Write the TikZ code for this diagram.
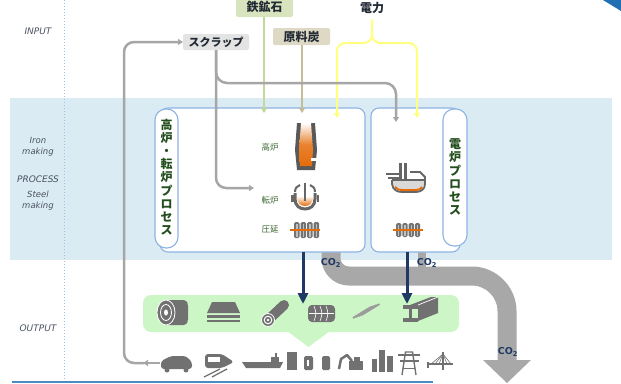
\documentclass[tikz,border=0pt]{standalone}
\usepackage{fontspec}
\setmainfont{DejaVu Sans}
\newfontfamily\jp{Noto Sans CJK JP}
\usetikzlibrary{arrows.meta}

\definecolor{bandblue}{HTML}{DAEBF4}
\definecolor{dotblue}{HTML}{9DC3E6}
\definecolor{boxline}{HTML}{8DB3E2}
\definecolor{labgray}{HTML}{4A5260}
\definecolor{navy}{HTML}{1F3864}
\definecolor{scrapgray}{HTML}{A6A6A6}
\definecolor{oreline}{HTML}{C5D89B}
\definecolor{orefill}{HTML}{D7E4BD}
\definecolor{coalline}{HTML}{C4BD97}
\definecolor{coalfill}{HTML}{DDD9C4}
\definecolor{scrapfill}{HTML}{E3E3E3}
\definecolor{powerline}{HTML}{FFFF80}
\definecolor{intext}{HTML}{222A35}
\definecolor{vgreen}{HTML}{234F1E}
\definecolor{lgreen}{HTML}{3F6B35}
\definecolor{prodgreen}{HTML}{CDF6C7}
\definecolor{icon}{HTML}{717171}
\definecolor{melt}{HTML}{E46C0A}
\definecolor{cornerblue}{HTML}{1F6FB2}
\definecolor{co2gray}{HTML}{A8A8A8}

\begin{document}
\begin{tikzpicture}[x=1pt,y=-1pt,
  every node/.style={inner sep=0pt, outer sep=0pt},
  rowlabel/.style={font=\fontsize{9}{11}\selectfont\itshape, text=labgray, align=center},
  inbox/.style={font=\jp\bfseries\fontsize{12}{13}\selectfont, text=intext, rounded corners=2pt},
  procbox/.style={draw=boxline, line width=1.1pt, fill=white, rounded corners=8pt},
  pill/.style={draw=boxline, line width=1.1pt, fill=white, rounded corners=11pt},
  vtext/.style={font=\jp\bfseries\fontsize{12}{13.2}\selectfont, text=vgreen, align=center},
  unitlabel/.style={font=\jp\fontsize{8.5}{9}\selectfont, text=lgreen},
  smalltip/.style={-{Triangle[length=5pt,width=6pt]}},
  scrapline/.style={draw=scrapgray, line width=2.5pt},
  feedline/.style={line width=2pt},
  steelarrow/.style={draw=navy, line width=3pt, -{Triangle[length=11pt,width=10pt]}},
  co2label/.style={font=\bfseries\fontsize{9.5}{10}\selectfont, text=navy},
  co2band/.style={draw=co2gray, line width=19pt}
]
\useasboundingbox (0,0) rectangle (621,383);

% process band and column divider
\fill[bandblue] (10,98) rectangle (612,260);
\draw[dotblue, line width=1pt, dotted] (64,0) -- (64,383);
\fill[cornerblue] (603,0) -- (621,0) -- (621,11) -- cycle;
\draw[cornerblue!80, line width=2pt] (12,381.5) -- (433,381.5);

% row labels
\node[rowlabel] (lin) at (38,31) {INPUT};
\node[rowlabel, font=\fontsize{8.5}{11}\selectfont\itshape] (liron) at (38,146.5) {Iron\\making};
\node[rowlabel] (lproc) at (38,179) {PROCESS};
\node[rowlabel, font=\fontsize{8.5}{11}\selectfont\itshape] (lsteel) at (38,201) {Steel\\making};
\node[rowlabel] (lout) at (38,328) {OUTPUT};

% products band
\fill[prodgreen, rounded corners=8pt] (143,295) rectangle (459,332);
\fill[prodgreen] (287,331) -- (330,331) -- (308.5,347) -- cycle;

% CO2 flow
\coordinate (co2a) at (331,244);
\coordinate (co2b) at (422,244);
\coordinate (co2end) at (507,361);
\draw[co2band] (co2a) -- (331,258) .. controls (331,268) and (339,276) .. (349,276)
   -- (472,276) .. controls (491,276) and (507,292) .. (507,311) -- (co2end);
\draw[draw=co2gray, line width=8pt] (co2b) -- (422,272);
\fill[co2gray] (483,360) -- (531,360) -- (507,383) -- cycle;

% process boxes
\node[procbox, minimum width=205pt, minimum height=144pt] (bof) at (262.5,180) {};
\node[pill, minimum width=23pt, minimum height=139pt] (bofpill) at (166.5,178.5) {};
\node[vtext] (boftext) at (166.5,177) {高\\炉\\・\\転\\炉\\プ\\ロ\\セ\\ス};
\node[procbox, minimum width=89pt, minimum height=144pt] (eaf) at (415.5,180) {};
\node[pill, minimum width=24pt, minimum height=137pt] (eafpill) at (455,177.5) {};
\node[vtext] (eaftext) at (455,177) {電\\炉\\プ\\ロ\\セ\\ス};

% inputs
\node[inbox, fill=orefill, minimum width=57pt, minimum height=20pt] (ore) at (264.5,7) {鉄鉱石};
\node[inbox, fill=coalfill, minimum width=57pt, minimum height=17pt] (coal) at (301.5,36.5) {原料炭};
\node[inbox, fill=scrapfill, minimum width=66pt, minimum height=16pt, font=\jp\bfseries\fontsize{11}{12}\selectfont] (scrap) at (216,42) {スクラップ};
\node[font=\jp\bfseries\fontsize{12}{13}\selectfont, text=intext] (power) at (372,8) {電力};

\coordinate (orein) at (264,113);
\coordinate (coalin) at (302,113);
\coordinate (powl) at (337,118);
\coordinate (powr) at (417,118);
\coordinate (scrapeaf) at (396,122);
\coordinate (scrapbof) at (254,188);
\coordinate (car) at (160,363);

\draw[oreline, feedline, smalltip] (ore.south -| orein) -- (orein);
\draw[coalline, feedline, smalltip] (coal.south -| coalin) -- (coalin);
\draw[powerline, feedline, smalltip, rounded corners=8pt] (power.south) ++(0,6) -- (372,43) -- (337,43) -- (powl);
\draw[powerline, feedline, smalltip, rounded corners=8pt] (power.south) ++(0,6) -- (372,43) -- (417,43) -- (powr);
\draw[scrapline, smalltip, rounded corners=11pt] (scrap.south) |- (396,83) -- (scrapeaf);
\draw[scrapline, smalltip, rounded corners=10pt] (scrap.south) |- (scrapbof);
\draw[scrapline, smalltip] (car) -- (143,363);
\draw[scrapline, smalltip, rounded corners=10pt] (144,363) -- (124,363) -- (124,42) -- (scrap.west);

% steel out to products
\draw[steelarrow] (303,252) -- (303,304);
\draw[steelarrow] (407,252) -- (407,304);

% CO2 labels
\node[co2label] (co2l) at (331,263) {CO\textsubscript{2}};
\node[co2label] (co2r) at (427,263) {CO\textsubscript{2}};
\node[co2label] (co2m) at (508,352) {CO\textsubscript{2}};

% unit labels
\node[unitlabel] (lbf) at (270,147) {高炉};
\node[unitlabel] (lbof) at (270,200) {転炉};
\node[unitlabel] (lroll) at (270,229) {圧延};

% blast furnace
\fill[black!65] (297,123) -- (295,150) -- (297,170) -- (315,170) -- (317,150) -- (315,123) -- cycle;
\shade[top color=white, bottom color=melt, middle color=melt!85] (301,123) -- (299,150) -- (300,166) -- (312,166) -- (313,150) -- (311,123) -- cycle;
\fill[white] (311,158) rectangle (317,161);

% converter
\shade[top color=white, bottom color=melt] (297,196) -- (313,196) .. controls (313,204) and (309,206) .. (305,206) .. controls (301,206) and (297,204) .. (297,196) -- cycle;
\draw[black!60, line width=3pt] (295,193) -- (295,199) .. controls (295,206) and (300,209) .. (305,209) .. controls (310,209) and (315,206) .. (315,199) -- (315,193);
\draw[black!60, line width=2pt] (295,192) .. controls (295,188) and (297,186) .. (300,185);
\draw[black!60, line width=2pt] (315,192) .. controls (315,188) and (313,186) .. (310,185);
\draw[black!60, line width=1.2pt] (305,183) -- (305,201);
\fill[black!60] (291,195) rectangle (293.5,202);
\fill[black!60] (316.5,195) rectangle (319,202);

% rolling mills
\foreach \rx in {294,300.5,307,313.5}
  {\fill[black!55, rounded corners=1.5pt] (\rx,222) rectangle ++(5.5,16);
   \fill[black!25] (\rx+2,223.5) rectangle ++(1.5,13);}
\draw[melt, line width=1.3pt] (290,230) -- (320,230);
\foreach \rx in {396,402.3,408.6,414.9}
  {\fill[black!55, rounded corners=1.5pt] (\rx,223) rectangle ++(5.3,14);
   \fill[black!25] (\rx+2,224.5) rectangle ++(1.3,11);}
\draw[melt, line width=1.3pt] (393,230) -- (423,230);

% electric arc furnace
\fill[white!85!black] (393,181) -- (424,181) -- (424,184) .. controls (423,189) and (420,191) .. (416,191) -- (402,191) .. controls (397,191) and (394,189) .. (393,184) -- cycle;
\draw[melt, line width=2pt] (395,187) .. controls (397,189.5) and (399,190) .. (402,190) -- (416,190) .. controls (419,190) and (421,189) .. (422,187);
\draw[black!60, line width=1.8pt] (392,180) -- (392,184) .. controls (393,190) and (397,192) .. (402,192) -- (416,192) .. controls (421,192) and (425,189) .. (425,184) -- (425,177) -- (420,172) -- (410,172);
\draw[black!60, line width=1.8pt] (392,180) -- (425,180);
\fill[black!60] (399,163) rectangle (402,181);
\fill[black!60] (404,163) rectangle (407,181);
\draw[black!60, line width=1.4pt] (386,174) -- (399,174);
\draw[black!60, line width=1.4pt] (388,178) -- (399,178);

% steel products
\fill[icon] (166,300) -- (184,300) .. controls (187,300) and (188,303) .. (188,306) -- (188,319) .. controls (188,322) and (187,325) .. (184,325) -- (166,325) -- cycle;
\fill[icon] (166,312.5) ellipse (9pt and 12.5pt);
\draw[white, line width=0.8pt] (166,312.5) ellipse (9pt and 12.5pt);
\draw[white, line width=0.8pt] (166,312.5) ellipse (5.5pt and 8pt);
\fill[white] (166,312.5) ellipse (2pt and 3pt);

\fill[icon] (212,302) -- (235,302) -- (240,313) -- (207,313) -- cycle;
\fill[icon] (207,315) rectangle (240,317.5);
\fill[icon] (207,319.5) rectangle (240,322);

\draw[icon, line width=10pt, line cap=round] (268,320) -- (284,305);
\fill[icon] (268,320) circle (6.5pt);
\draw[white, line width=0.8pt] (268,320) circle (6.5pt);
\draw[white, line width=1pt] (268,320) circle (3.8pt);
\fill[white] (268,320) circle (1.3pt);

\fill[icon, rounded corners=4pt] (308,305) rectangle (335,322);
\foreach \xx in {314,320,326}
  \draw[white, line width=0.6pt] (\xx,306) .. controls (\xx+2.5,313.5) .. (\xx,321);
\draw[white, line width=0.6pt] (309,313.5) -- (334,313.5);

\foreach \d in {0,2.8,5.6,8.4}
  \draw[icon!70!white, line width=1.9pt] (353+\d,318-\d*0.35) -- (371+\d,307-\d*0.35);

\fill[icon] (410,305) -- (431,297) -- (438,297) -- (438,313) -- (418,321) -- (418,305) -- cycle;
\draw[white, line width=0.7pt] (418,305) -- (438,297);
\fill[icon] (403,305) rectangle (418,309);
\fill[icon] (403,318) rectangle (418,322);
\fill[icon] (409,309) rectangle (412,318);

% end uses
\fill[icon, rounded corners=3pt] (161,369) -- (161,361) -- (171,356) -- (186,356) -- (192,362) -- (192,369) -- cycle;
\fill[icon] (167,370) circle (2.5pt);
\fill[icon] (186,370) circle (2.5pt);

\fill[icon, rounded corners=3pt] (205,354) -- (222,354) -- (234,362) -- (222,368) -- (205,368) -- cycle;
\fill[white] (207.5,357) rectangle (219.5,362);
\draw[icon, line width=1.3pt] (204,377) -- (220,369);
\draw[icon, line width=1.3pt] (212,377) -- (227,369);

\fill[icon] (242,362) -- (283,362) -- (280,368) -- (246,368) -- cycle;
\fill[icon] (271,357) rectangle (279,362);
\fill[icon] (275,353) rectangle (276.5,357);

\fill[icon] (287,352) rectangle (297,370);
\fill[icon, rounded corners=1.5pt] (304,356) rectangle (313,370);
\fill[white] (306.5,360) rectangle (309,366);
\fill[icon, rounded corners=1.5pt] (322,356) rectangle (330,370);

\draw[icon, line width=2.5pt, line join=round] (339,369) -- (341,359) -- (347,355) -- (352,361);
\fill[icon] (349,361) rectangle (363,370);
\fill[icon] (354,357) rectangle (360,361);

\fill[icon] (372,359) rectangle (377,372);
\fill[icon] (379,350) rectangle (385,372);
\fill[icon] (387,356) rectangle (393,372);

\draw[icon, line width=1.4pt] (402,375) -- (405.5,352) -- (412.5,352) -- (416,375);
\draw[icon, line width=1.2pt] (398,355) -- (420,355);
\draw[icon, line width=1.2pt] (399.5,361) -- (418.5,361);
\draw[icon, line width=0.8pt] (403,368) -- (415,368);

\draw[icon, line width=2pt] (443,352) -- (443,370);
\draw[icon, line width=2pt] (428,364) -- (453,364);
\foreach \cx in {431,435,439,447,451}
  \draw[icon, line width=0.6pt] (443,354) -- (\cx,364);
\fill[icon] (427,362) rectangle (429,368);
\end{tikzpicture}
\end{document}
